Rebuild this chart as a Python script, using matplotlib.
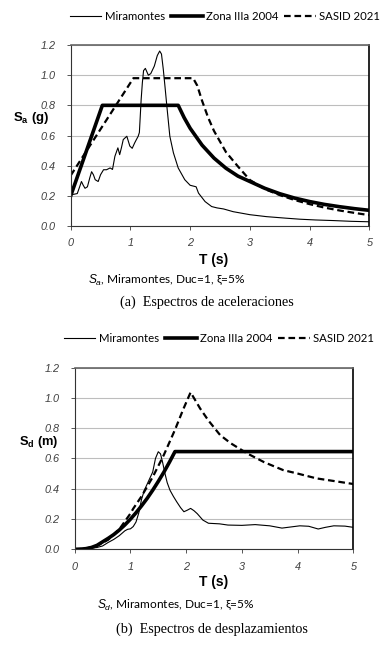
import matplotlib
matplotlib.use("Agg")
import matplotlib.pyplot as plt
from matplotlib.lines import Line2D

plt.rcParams['mathtext.fontset'] = 'custom'
plt.rcParams['mathtext.rm'] = 'Liberation Sans'
plt.rcParams['mathtext.it'] = 'Liberation Sans:italic'
plt.rcParams['mathtext.bf'] = 'Liberation Sans:bold'

# ---------------- data: acceleration spectra (Sa, g) ----------------
T_mir_a = [0, 0.05, 0.11, 0.15, 0.18, 0.21, 0.24, 0.28, 0.32, 0.35, 0.38, 0.41, 0.46, 0.5, 0.55,
           0.6, 0.66, 0.7, 0.74, 0.79, 0.82, 0.85, 0.88, 0.94, 0.99, 1.03, 1.07, 1.1, 1.13, 1.15,
           1.18, 1.2, 1.22, 1.25, 1.3, 1.34, 1.4, 1.45, 1.49, 1.52, 1.55, 1.58, 1.61, 1.66, 1.72,
           1.8, 1.91, 2.0, 2.05, 2.1, 2.14, 2.25, 2.36, 2.45, 2.56, 2.72, 3.0, 3.28, 3.6, 3.84,
           4.1, 4.4, 4.7, 5.0]
Sa_mir = [0.21, 0.21, 0.215, 0.26, 0.295, 0.27, 0.25, 0.26, 0.32, 0.36, 0.34, 0.307, 0.295, 0.34, 0.373,
          0.373, 0.385, 0.375, 0.462, 0.518, 0.473, 0.52, 0.573, 0.595, 0.53, 0.515, 0.55, 0.573, 0.595, 0.62,
          0.84, 0.95, 1.03, 1.045, 1.0, 1.01, 1.06, 1.13, 1.16, 1.14, 1.04, 0.92, 0.795, 0.595, 0.485,
          0.385, 0.307, 0.27, 0.265, 0.26, 0.218, 0.162, 0.129, 0.12, 0.113, 0.095, 0.075, 0.062, 0.052, 0.045,
          0.04, 0.036, 0.031, 0.028]

T_zona_a = [0, 0.53, 1.8, 1.9, 2.0, 2.2, 2.4, 2.6, 2.8, 3.0, 3.25, 3.5, 3.75, 4.0, 4.25, 4.5, 4.75, 5.0]
Sa_zona = [0.2, 0.8, 0.8, 0.718, 0.648, 0.536, 0.45, 0.383, 0.331, 0.295, 0.25, 0.214, 0.185, 0.162,
           0.143, 0.128, 0.115, 0.104]

T_sasid_a = [0, 1.05, 2.05, 2.12, 2.2, 2.3, 2.4, 2.6, 2.8, 3.0, 3.25, 3.5, 3.75, 4.0, 4.25, 4.5, 4.75, 5.0]
Sa_sasid = [0.335, 0.98, 0.98, 0.93, 0.83, 0.72, 0.63, 0.49, 0.395, 0.305, 0.245, 0.205, 0.172, 0.145,
            0.122, 0.103, 0.087, 0.072]

# ---------------- data: displacement spectra (Sd, m) ----------------
T_mir_d = [0, 0.2, 0.4, 0.5, 0.6, 0.7, 0.8, 0.9, 0.95, 1.0, 1.05, 1.1, 1.15, 1.2, 1.25,
           1.3, 1.35, 1.4, 1.45, 1.5, 1.54, 1.58, 1.62, 1.66, 1.71, 1.77, 1.83, 1.9, 1.96, 2.02,
           2.08, 2.14, 2.2, 2.3, 2.4, 2.6, 2.75, 3.0, 3.24, 3.5, 3.72, 4.04, 4.2, 4.37, 4.5,
           4.65, 4.85, 5.0]
Sd_mir = [0, 0.002, 0.012, 0.022, 0.045, 0.065, 0.09, 0.122, 0.132, 0.135, 0.15, 0.18, 0.24, 0.33, 0.39,
          0.43, 0.47, 0.51, 0.6, 0.644, 0.63, 0.57, 0.5, 0.44, 0.39, 0.35, 0.314, 0.275, 0.248, 0.258,
          0.27, 0.255, 0.235, 0.193, 0.172, 0.168, 0.16, 0.158, 0.163, 0.155, 0.14, 0.155, 0.152, 0.134, 0.145,
          0.155, 0.153, 0.145]

T_zona_d = [0, 0.1, 0.2, 0.3, 0.4, 0.53, 0.6, 0.7, 0.8, 0.9, 1.0, 1.1, 1.2, 1.3, 1.4, 1.5, 1.6, 1.7, 1.8, 5.0]
Sd_zona = [0, 0.0008, 0.0042, 0.012, 0.026, 0.056, 0.072, 0.097, 0.127, 0.161, 0.199, 0.241, 0.287,
           0.336, 0.39, 0.448, 0.509, 0.575, 0.645, 0.645]

T_sasid_d = [0, 0.2, 0.4, 0.6, 0.8, 1.0, 1.05, 1.2, 1.4, 1.6, 1.8, 1.95, 2.08, 2.25, 2.4, 2.61, 2.8,
             3.09, 3.4, 3.74, 4.0, 4.34, 4.7, 5.0]
Sd_sasid = [0, 0.005, 0.023, 0.063, 0.132, 0.236, 0.268, 0.35, 0.477, 0.623, 0.789, 0.926, 1.036,
            0.93, 0.85, 0.754, 0.70, 0.634, 0.575, 0.523, 0.50, 0.468, 0.448, 0.431]

series_names = ["Miramontes", "Zona IIIa 2004", "SASID 2021"]
x_ticks = [0, 1, 2, 3, 4, 5]
y_ticks = [0.0, 0.2, 0.4, 0.6, 0.8, 1.0, 1.2]

# ---------------- figure ----------------
W, H = 385, 651
fig = plt.figure(figsize=(W / 100, H / 100), dpi=100)

TICK_FONT = dict(family='Liberation Sans', style='italic', size=7.8, color='#404040')
CAL = ['Lato', 'DejaVu Sans']
DASH = (3.0, 1.7)


def px_axes(x0, x1, y_top, y_bot):
    return fig.add_axes([x0 / W, 1 - y_bot / H, (x1 - x0) / W, (y_bot - y_top) / H])


def style_axes(ax):
    ax.set_xlim(0, 5)
    ax.set_ylim(0, 1.2)
    ax.set_xticks(x_ticks)
    ax.set_yticks(y_ticks)
    ax.set_xticklabels([str(v) for v in x_ticks], fontdict=TICK_FONT)
    ax.set_yticklabels([f"{v:.1f}" for v in y_ticks], fontdict=TICK_FONT)
    ax.tick_params(axis='both', direction='out', length=3, width=0.7, color='#555555')
    ax.tick_params(axis='x', pad=6)
    ax.tick_params(axis='y', pad=8)
    ax.yaxis.grid(True, color='#bdbdbd', lw=0.8)
    ax.set_axisbelow(True)
    for s in ['left', 'bottom']:
        ax.spines[s].set_color('#333333')
        ax.spines[s].set_linewidth(0.8)
    ax.spines['top'].set_color('#666666')
    ax.spines['top'].set_linewidth(1.2)
    ax.spines['right'].set_color('#000000')
    ax.spines['right'].set_linewidth(1.2)


def draw(ax, tm, vm, tz, vz, ts, vs):
    ax.plot(tm, vm, color='black', lw=0.8, solid_joinstyle='round')
    ax.plot(tz, vz, color='black', lw=2.6, solid_joinstyle='round')
    ax.plot(ts, vs, color='black', lw=1.6, dashes=DASH)


def legend(xc, yc):
    handles = [Line2D([], [], color='black', lw=0.8),
               Line2D([], [], color='black', lw=2.6),
               Line2D([], [], color='black', lw=1.6, dashes=DASH)]
    fig.legend(handles, series_names, loc='center', bbox_to_anchor=(xc / W, 1 - yc / H),
               ncol=3, frameon=False, handlelength=2.8, handletextpad=0.3, columnspacing=0.5,
               prop=dict(family=CAL, size=8.2), borderaxespad=0)


# ---- top chart ----
ax1 = px_axes(70.7, 369.3, 45, 226)
style_axes(ax1)
draw(ax1, T_mir_a, Sa_mir, T_zona_a, Sa_zona, T_sasid_a, Sa_sasid)
legend(225, 16)
fig.text(13 / W, 1 - 118 / H, r'S$_\mathbf{a}$ (g)', fontsize=9.5, fontweight='bold',
         family='Liberation Sans', ha='left', va='center')
fig.text(214 / W, 1 - 260 / H, 'T (s)', fontsize=10, fontweight='bold',
         family='Liberation Sans', ha='center', va='center')
fig.text(88 / W, 1 - 280 / H, r'$S_a$, Miramontes, Duc=1, ξ=5%', fontsize=8.6,
         family=CAL, ha='left', va='center')
fig.text(207 / W, 1 - 302 / H, '(a)  Espectros de aceleraciones', fontsize=10.2,
         family='Liberation Serif', ha='center', va='center')

# ---- bottom chart ----
ax2 = px_axes(74.7, 353.3, 367.5, 549.3)
style_axes(ax2)
draw(ax2, T_mir_d, Sd_mir, T_zona_d, Sd_zona, T_sasid_d, Sd_sasid)
legend(219, 338)
fig.text(19 / W, 1 - 442 / H, r'S$_\mathbf{d}$ (m)', fontsize=9.3, fontweight='bold',
         family='Liberation Sans', ha='left', va='center')
fig.text(214 / W, 1 - 582 / H, 'T (s)', fontsize=10, fontweight='bold',
         family='Liberation Sans', ha='center', va='center')
fig.text(97 / W, 1 - 605 / H, r'$S_d$, Miramontes, Duc=1, ξ=5%', fontsize=8.6,
         family=CAL, ha='left', va='center')
fig.text(212 / W, 1 - 629 / H, '(b)  Espectros de desplazamientos', fontsize=10.2,
         family='Liberation Serif', ha='center', va='center')

fig.savefig('out.png', dpi=100, facecolor='white')
